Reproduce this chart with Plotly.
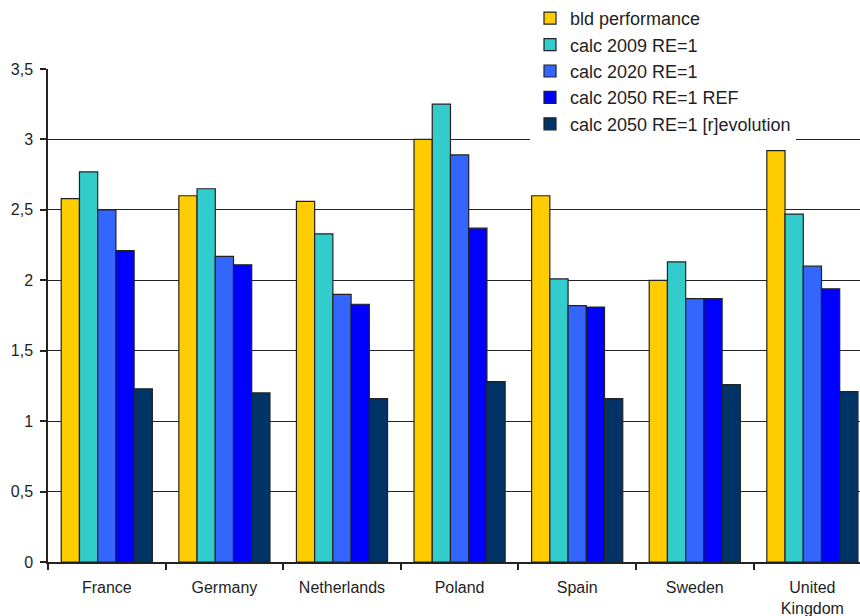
import plotly.graph_objects as go

countries = ["France", "Germany", "Netherlands", "Poland", "Spain", "Sweden", "United<br>Kingdom"]

bld_performance = [2.58, 2.60, 2.56, 3.00, 2.60, 2.00, 2.92]
calc_2009 = [2.77, 2.65, 2.33, 3.25, 2.01, 2.13, 2.47]
calc_2020 = [2.50, 2.17, 1.90, 2.89, 1.82, 1.87, 2.10]
calc_2050_ref = [2.21, 2.11, 1.83, 2.37, 1.81, 1.87, 1.94]
calc_2050_rev = [1.23, 1.20, 1.16, 1.28, 1.16, 1.26, 1.21]

series = [
    ("bld performance", bld_performance, "#FFCC00"),
    ("calc 2009 RE=1", calc_2009, "#33CCCC"),
    ("calc 2020 RE=1", calc_2020, "#3366FF"),
    ("calc 2050 RE=1 REF", calc_2050_ref, "#0000FF"),
    ("calc 2050 RE=1 [r]evolution", calc_2050_rev, "#003366"),
]

FONT = "Liberation Sans, Arial, sans-serif"
TEXT = "#1e1e24"

fig = go.Figure()
for name, vals, color in series:
    fig.add_trace(go.Bar(
        x=countries, y=vals, name=name,
        marker=dict(color=color, line=dict(color="#222222", width=1.2)),
    ))

fig.update_layout(
    width=860, height=616,
    margin=dict(l=48, r=0, t=69, b=54, autoexpand=False),
    paper_bgcolor="white", plot_bgcolor="white",
    barmode="group", bargap=0.225, bargroupgap=0,
    separators=",.",
    font=dict(family=FONT, color=TEXT, size=16),
    showlegend=True,
    legend=dict(
        xref="container", yref="container",
        x=530 / 860, y=1, xanchor="left", yanchor="top",
        bgcolor="white", borderwidth=0,
        font=dict(family=FONT, size=18, color=TEXT),
        tracegroupgap=0,
    ),
    xaxis=dict(
        range=[-0.5, 6.405],
        showline=True, linecolor="#222222", linewidth=1.5,
        ticks="outside", tickson="boundaries", ticklen=6,
        tickcolor="#222222", tickwidth=1.5, tickangle=0,
        showgrid=False, zeroline=False,
        tickfont=dict(family=FONT, size=16, color=TEXT),
        ticklabelstandoff=10,
    ),
    yaxis=dict(
        range=[0, 3.5], dtick=0.5, tick0=0,
        showline=True, linecolor="#222222", linewidth=1.5,
        ticks="outside", ticklen=6, tickcolor="#222222", tickwidth=1.5,
        showgrid=True, gridcolor="#222222", gridwidth=1.3,
        zeroline=False,
        tickfont=dict(family=FONT, size=16, color=TEXT),
        ticklabelstandoff=4,
    ),
)

fig.write_html("out.html")
